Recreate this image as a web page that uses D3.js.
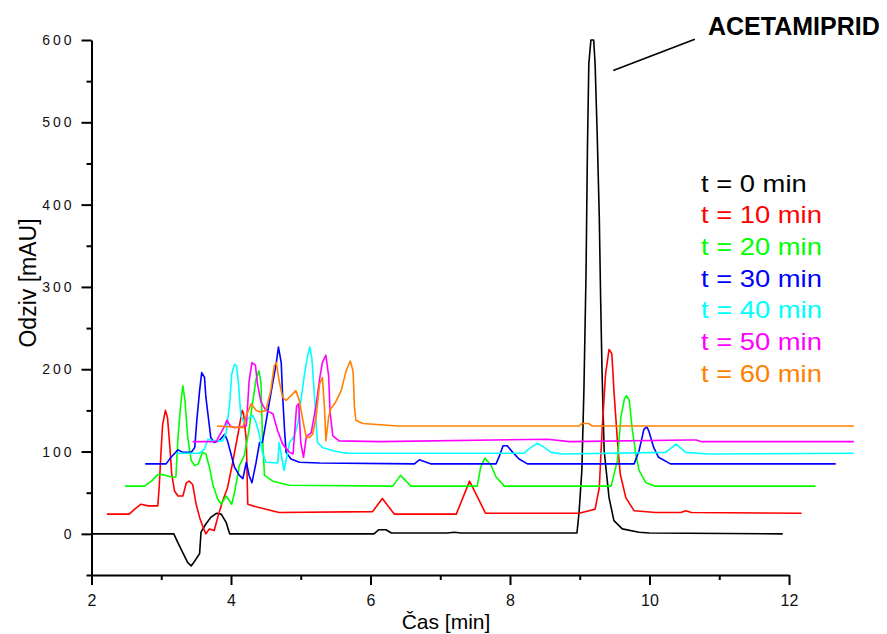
<!DOCTYPE html>
<html>
<head>
<meta charset="UTF-8">
<title>Acetamiprid - chromatograms</title>
<script src="https://d3js.org/d3.v7.min.js"></script>
<style>
    body { margin: 0; background: #fff; }
    svg { font-family: "Liberation Sans", Arial, sans-serif; }
    .trace { fill: none; stroke-width: 1.6; stroke-linejoin: round; }
    .axis path, .axis line { stroke: #000; stroke-width: 2; }
    .axis text { fill: #111; font-family: "Liberation Sans", Arial, sans-serif; }
    .y-axis text { font-size: 14px; letter-spacing: 3px; }
    .x-axis text { font-size: 16px; }
</style>
</head>
<body>
<script>
    // legend labels, one per chromatogram
    var labels = ["t = 0 min", "t = 10 min", "t = 20 min", "t = 30 min", "t = 40 min", "t = 50 min", "t = 60 min"];
    var colors = ["#000000", "#ff0000", "#00ff00", "#0000ff", "#00ffff", "#ff00ff", "#ff8000"];

    // [time (min), response (mAU)] as plotted (offset traces)
    var s0 = [[2.00, 0], [3.18, 0], [3.24, -11], [3.31, -23], [3.38, -35], [3.43, -39], [3.48, -33], [3.55, -24],
        [3.57, 2], [3.64, 12], [3.71, 20], [3.79, 25], [3.86, 24], [3.93, 14], [3.98, 0], [6.05, 0], [6.12, 5],
        [6.22, 5], [6.30, 1], [7.10, 1], [7.20, 2], [7.30, 1], [8.96, 1], [8.99, 26], [9.03, 77], [9.06, 176],
        [9.09, 316], [9.11, 466], [9.13, 571], [9.16, 600], [9.20, 600], [9.22, 571], [9.25, 486], [9.28, 385],
        [9.30, 283], [9.32, 195], [9.35, 101], [9.42, 44], [9.49, 16], [9.61, 6], [9.85, 2], [10.0, 1], [11.91, 0]];

    var s10 = [[2.22, 24], [2.54, 24], [2.62, 30], [2.71, 36], [2.81, 34], [2.95, 34], [2.97, 56], [3.00, 105],
        [3.02, 133], [3.06, 150], [3.09, 141], [3.12, 109], [3.15, 73], [3.19, 52], [3.24, 46], [3.31, 46],
        [3.36, 62], [3.40, 64], [3.45, 60], [3.50, 36], [3.55, 20], [3.59, 10], [3.64, 0], [3.69, 6], [3.76, 4],
        [3.81, 20], [3.88, 40], [3.95, 56], [4.02, 85], [4.10, 121], [4.16, 150], [4.18, 146], [4.22, 113],
        [4.24, 36], [4.31, 34], [4.50, 30], [4.69, 26], [6.03, 27], [6.17, 43], [6.34, 24], [7.23, 24],
        [7.42, 64], [7.65, 25], [8.99, 25], [9.22, 30], [9.28, 56], [9.32, 125], [9.37, 194], [9.42, 224],
        [9.46, 219], [9.49, 174], [9.54, 113], [9.58, 73], [9.66, 44], [9.78, 28], [10.09, 26], [10.45, 26],
        [10.52, 28], [10.60, 26], [12.18, 25]];

    var s20 = [[2.48, 58], [2.76, 58], [2.86, 64], [2.95, 72], [3.02, 72], [3.14, 69], [3.21, 69], [3.24, 117],
        [3.28, 158], [3.31, 180], [3.34, 162], [3.38, 117], [3.43, 89], [3.48, 83], [3.53, 85], [3.59, 99],
        [3.64, 97], [3.69, 81], [3.74, 60], [3.81, 42], [3.86, 36], [3.93, 46], [3.98, 40], [4.01, 36],
        [4.05, 50], [4.12, 83], [4.19, 95], [4.26, 127], [4.31, 160], [4.36, 188], [4.40, 198], [4.43, 184],
        [4.45, 119], [4.48, 71], [4.60, 64], [4.69, 62], [4.84, 59], [6.32, 58], [6.43, 71], [6.58, 58],
        [7.53, 58], [7.58, 81], [7.64, 92], [7.73, 83], [7.80, 69], [7.92, 58], [9.45, 58], [9.54, 89],
        [9.59, 142], [9.64, 164], [9.67, 168], [9.71, 162], [9.75, 129], [9.80, 99], [9.85, 77], [9.95, 62],
        [10.07, 58], [12.38, 58]];

    var s30 = [[2.77, 85], [3.07, 85], [3.14, 93], [3.24, 102], [3.31, 99], [3.43, 99], [3.48, 105], [3.51, 138],
        [3.55, 174], [3.58, 196], [3.62, 190], [3.64, 166], [3.68, 138], [3.71, 117], [3.76, 111], [3.83, 113],
        [3.91, 121], [3.95, 113], [4.00, 97], [4.05, 81], [4.12, 71], [4.17, 67], [4.22, 87], [4.26, 71],
        [4.30, 62], [4.36, 87], [4.41, 111], [4.45, 111], [4.50, 135], [4.55, 160], [4.60, 184], [4.65, 208],
        [4.68, 227], [4.72, 208], [4.74, 168], [4.77, 123], [4.79, 99], [4.86, 91], [4.98, 87], [5.27, 86],
        [6.63, 85], [6.70, 90], [6.87, 85], [7.80, 85], [7.85, 95], [7.90, 107], [7.96, 107], [8.04, 99],
        [8.13, 91], [8.25, 85], [9.78, 85], [9.85, 101], [9.92, 127], [9.96, 130], [9.99, 125], [10.06, 105],
        [10.13, 93], [10.30, 85], [12.67, 85]];

    var s40 = [[3.21, 98], [3.55, 98], [3.62, 103], [3.67, 115], [3.74, 113], [3.88, 113], [3.93, 123], [3.98, 158],
        [4.01, 194], [4.05, 206], [4.08, 204], [4.11, 180], [4.14, 144], [4.19, 135], [4.24, 140], [4.31, 144],
        [4.36, 135], [4.41, 119], [4.45, 99], [4.50, 87], [4.67, 86], [4.69, 111], [4.74, 87], [4.76, 77],
        [4.84, 111], [4.91, 119], [4.96, 135], [5.00, 160], [5.05, 192], [5.10, 217], [5.13, 227], [5.16, 213],
        [5.19, 176], [5.22, 135], [5.24, 111], [5.31, 105], [5.46, 101], [5.65, 98], [8.20, 98], [8.30, 105],
        [8.39, 110], [8.49, 105], [8.59, 99], [8.75, 97], [10.23, 99], [10.38, 109], [10.52, 99], [10.85, 97],
        [12.93, 98]];

    var s50 = [[3.45, 112], [3.79, 112], [3.83, 119], [3.91, 131], [3.94, 138], [3.99, 131], [4.05, 129],
        [4.22, 131], [4.26, 186], [4.30, 208], [4.35, 205], [4.38, 182], [4.43, 160], [4.50, 150], [4.60, 146],
        [4.67, 125], [4.74, 109], [4.84, 99], [4.89, 97], [4.94, 155], [4.97, 158], [5.00, 111], [5.04, 93],
        [5.08, 118], [5.15, 123], [5.22, 156], [5.27, 188], [5.31, 208], [5.36, 217], [5.40, 192], [5.42, 148],
        [5.46, 119], [5.55, 113], [6.13, 112], [8.54, 115], [8.85, 112], [10.54, 114], [10.67, 114],
        [10.75, 112], [12.93, 112]];

    var s60 = [[3.80, 131], [4.17, 129], [4.22, 144], [4.29, 158], [4.36, 150], [4.43, 148], [4.50, 150],
        [4.57, 174], [4.62, 204], [4.65, 208], [4.69, 186], [4.74, 166], [4.79, 162], [4.86, 168], [4.93, 174],
        [4.98, 162], [5.03, 138], [5.08, 117], [5.12, 117], [5.17, 121], [5.22, 142], [5.27, 182], [5.31, 190],
        [5.34, 154], [5.36, 113], [5.40, 142], [5.43, 152], [5.50, 160], [5.58, 174], [5.65, 198], [5.71, 210],
        [5.75, 198], [5.77, 154], [5.79, 138], [5.89, 134], [6.39, 131], [8.99, 131], [9.03, 134], [9.13, 134],
        [9.18, 131], [12.93, 131]];

    var series = [s0, s10, s20, s30, s40, s50, s60];

    var svg = d3.select("body").append("svg")
        .attr("width", 887).attr("height", 634);

    var x = d3.scaleLinear().domain([2, 12]).range([91.5, 789]);
    var y = d3.scaleLinear().domain([-50, 600]).range([575, 40]);

    var line = d3.line()
        .x(function (d) { return x(d[0]); })
        .y(function (d) { return y(d[1]); });

    svg.append("g").selectAll("path")
        .data(series)
        .enter().append("path")
        .attr("class", "trace")
        .attr("stroke", function (d, i) { return colors[i]; })
        .attr("d", line);

    // axes: labelled major ticks + short minor ticks
    var yAxis = svg.append("g").attr("class", "axis y-axis")
        .attr("transform", "translate(" + x(2) + ",0)");
    yAxis.call(d3.axisLeft(y).tickValues(d3.range(0, 601, 100))
        .tickSize(10).tickPadding(7).tickSizeOuter(0));
    yAxis.append("g").call(d3.axisLeft(y).tickValues(d3.range(-50, 600, 100))
        .tickSize(5).tickFormat("").tickSizeOuter(0))
        .select(".domain").remove();

    var xAxis = svg.append("g").attr("class", "axis x-axis")
        .attr("transform", "translate(0," + y(-50) + ")");
    xAxis.call(d3.axisBottom(x).tickValues(d3.range(2, 13, 2))
        .tickSize(10).tickPadding(10).tickSizeOuter(0));
    xAxis.append("g").call(d3.axisBottom(x).tickValues(d3.range(3, 12, 2))
        .tickSize(5).tickFormat("").tickSizeOuter(0))
        .select(".domain").remove();

    svg.append("text")
        .attr("transform", "translate(36,283) rotate(-90)")
        .attr("text-anchor", "middle")
        .style("font-size", "23px")
        .text("Odziv [mAU]");

    svg.append("text")
        .attr("x", 446).attr("y", 629)
        .attr("text-anchor", "middle")
        .style("font-size", "21px")
        .text("Čas [min]");

    // legend
    svg.append("g").selectAll("text")
        .data(labels)
        .enter().append("text")
        .attr("transform", function (d, i) { return "translate(701," + (191.7 + i * 31.67) + ") scale(1.19,1)"; })
        .attr("fill", function (d, i) { return colors[i]; })
        .style("font-size", "23px")
        .text(function (d) { return d; });

    // peak annotation
    svg.append("line")
        .attr("x1", x(9.48)).attr("y1", y(563))
        .attr("x2", x(10.65)).attr("y2", y(601))
        .attr("stroke", "#000").attr("stroke-width", 1.6);

    svg.append("text")
        .attr("x", 708).attr("y", 35)
        .style("font-size", "25px").style("font-weight", "bold")
        .text("ACETAMIPRID");
</script>
</body>
</html>
